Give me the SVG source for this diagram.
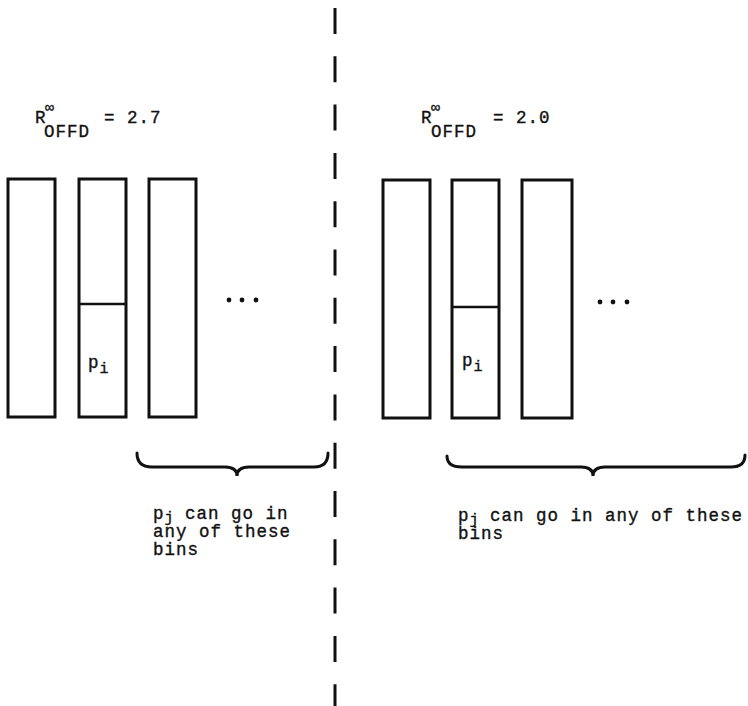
<svg xmlns="http://www.w3.org/2000/svg" width="748" height="706" viewBox="0 0 748 706">
<style>
  .bin { fill: none; stroke: #111; stroke-width: 3; }
  .div { stroke: #111; stroke-width: 2.5; }
  .t { font-family: "Liberation Mono", "Courier New", monospace; font-size: 17.5px; letter-spacing: 1px; fill: #111; stroke: #111; stroke-width: 0.35; }
  .sub { font-size: 15px; letter-spacing: 0; }
  .inf { font-size: 15px; letter-spacing: 0; }
  .brace { fill: none; stroke: #111; stroke-width: 3; stroke-linecap: round; }
  .dash { stroke: #111; stroke-width: 3; stroke-dasharray: 26 22.3; }
</style>
<rect width="748" height="706" fill="#fff"/>

<g id="divider-line">
  <line class="dash" x1="335" y1="8" x2="335" y2="706"/>
</g>

<g id="title-left">
  <text class="t" x="35" y="123">R</text>
  <text class="t inf" x="45" y="112">∞</text>
  <text class="t" x="44" y="137">OFFD</text>
  <text class="t" x="104" y="123">= 2.7</text>
</g>
<g id="title-right">
  <text class="t" x="421" y="123">R</text>
  <text class="t inf" x="431" y="112">∞</text>
  <text class="t" x="431" y="137">OFFD</text>
  <text class="t" x="493" y="123">= 2.0</text>
</g>

<g id="left-bin1"><rect class="bin" x="8" y="179" width="47" height="238"/></g>
<g id="left-bin2">
  <rect class="bin" x="79" y="179" width="47" height="238"/>
  <line class="div" x1="79" y1="304" x2="126" y2="304"/>
  <text class="t" x="88" y="368">p<tspan class="sub" dy="5">i</tspan></text>
</g>
<g id="left-bin3"><rect class="bin" x="149" y="179" width="47" height="238"/></g>
<g id="left-dots" fill="#111">
  <circle cx="229" cy="300" r="2.4"/><circle cx="242" cy="300" r="2.4"/><circle cx="256" cy="300" r="2.4"/>
</g>

<g id="right-bin1"><rect class="bin" x="383" y="180" width="47" height="238"/></g>
<g id="right-bin2">
  <rect class="bin" x="452" y="180" width="47" height="238"/>
  <line class="div" x1="452" y1="307" x2="499" y2="307"/>
  <text class="t" x="462" y="366">p<tspan class="sub" dy="5">i</tspan></text>
</g>
<g id="right-bin3"><rect class="bin" x="522" y="180" width="50" height="238"/></g>
<g id="right-dots" fill="#111">
  <circle cx="600" cy="302" r="2.4"/><circle cx="613" cy="302" r="2.4"/><circle cx="627" cy="302" r="2.4"/>
</g>

<g id="connectors">
  <path class="brace" d="M137,453 Q137,467 152,467 L225,467 Q237,467 237,476 Q237,467 249,467 L314,467 Q328,467 328,453"/>
  <path class="brace" d="M447,456 Q447,467 462,467 L581,467 Q593,467 593,476 Q593,467 605,467 L731,467 Q745,467 745,455"/>
</g>

<g id="label-left">
  <text class="t" x="153" y="519">p<tspan class="sub" dy="3">j</tspan><tspan dy="-3"> can go in</tspan></text>
  <text class="t" x="153" y="537">any of these</text>
  <text class="t" x="153" y="555">bins</text>
</g>
<g id="label-right">
  <text class="t" x="458" y="521">p<tspan class="sub" dy="3">j</tspan><tspan dy="-3"> can go in any of these</tspan></text>
  <text class="t" x="458" y="539">bins</text>
</g>
</svg>
